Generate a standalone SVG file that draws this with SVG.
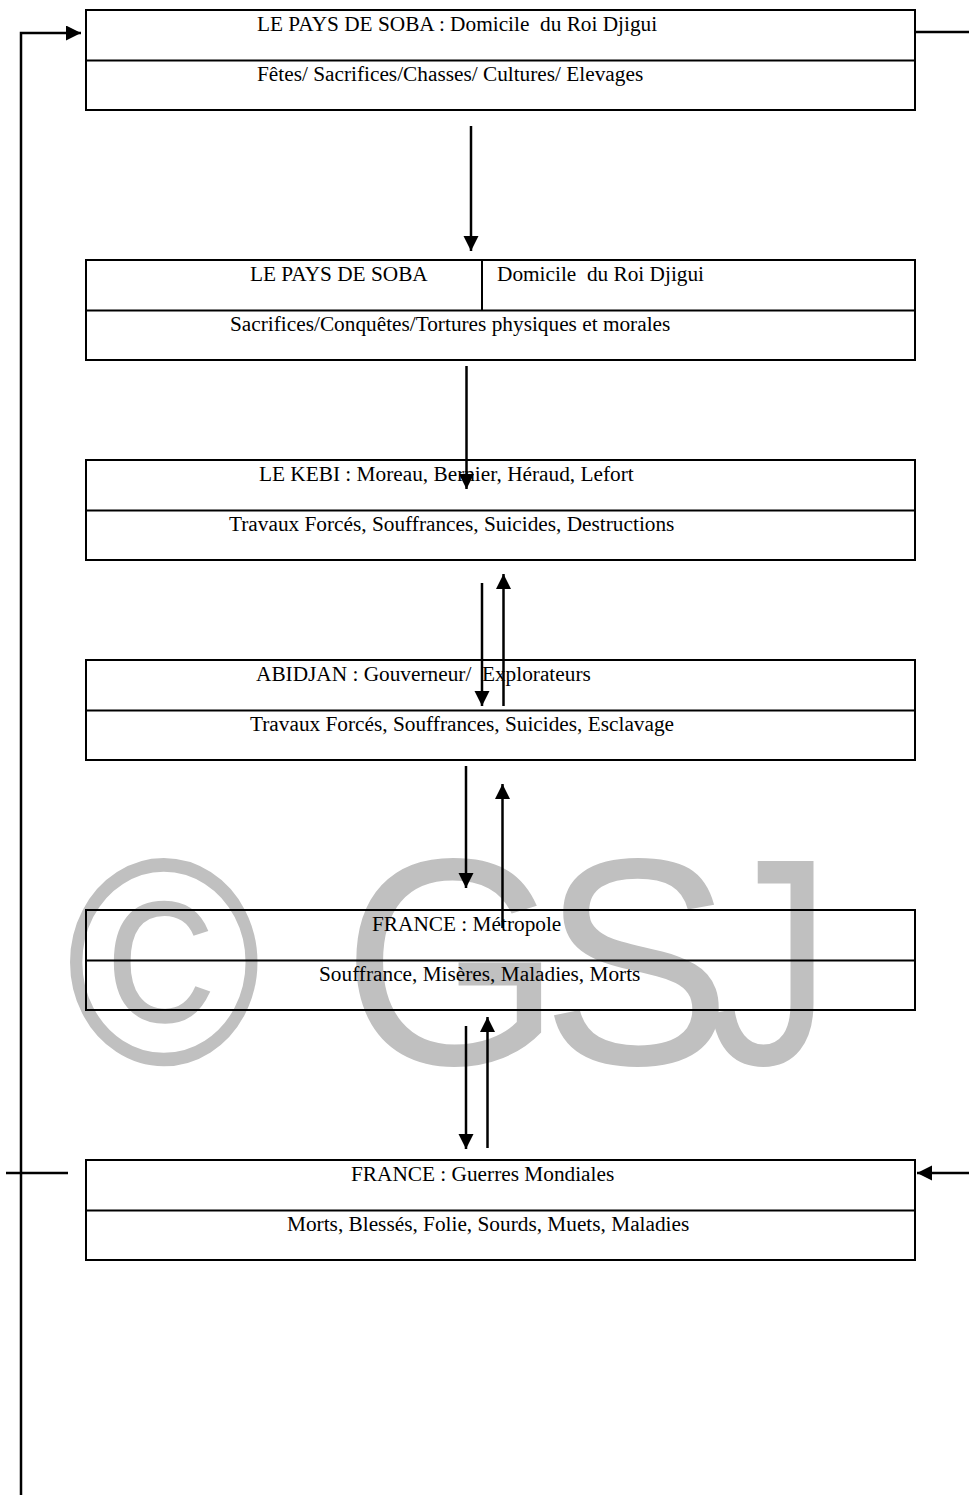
<svg xmlns="http://www.w3.org/2000/svg" width="969" height="1495" viewBox="0 0 969 1495">
<style>
.box{fill:none;stroke:#000;stroke-width:2}
.t{font-family:"Liberation Serif","Times New Roman",serif;font-size:21.3px;fill:#000}
.wm{font-family:"Liberation Sans",Arial,sans-serif;font-size:295px;fill:#c0c0c0}
.c{fill:none;stroke:#000;stroke-width:2.5}
</style>
<defs>
<marker id="ah" markerUnits="userSpaceOnUse" markerWidth="16" markerHeight="16" refX="15" refY="7.5" orient="auto">
<path d="M0,0 L15,7.5 L0,15 z" fill="#000"/>
</marker>
</defs>
<rect width="969" height="1495" fill="#fff"/>
<g id="watermark">
<text class="wm" transform="translate(66,1064) scale(0.9,1)">©</text>
<text class="wm" transform="translate(342,1064) scale(0.96,1)">G</text>
<text class="wm" transform="translate(541,1064) scale(0.97,1)">S</text>
<text class="wm" transform="translate(708,1064) scale(0.84,1)">J</text>
</g>
<g id="connectors">
<polyline class="c" points="21,1495 21,33 81,33" marker-end="url(#ah)"/>
<line class="c" x1="916" y1="32" x2="969" y2="32"/>
<line class="c" x1="471" y1="126" x2="471" y2="251" marker-end="url(#ah)"/>
<line class="c" x1="466.5" y1="366" x2="466.5" y2="489" marker-end="url(#ah)"/>
<line class="c" x1="482" y1="583" x2="482" y2="706" marker-end="url(#ah)"/>
<line class="c" x1="503.5" y1="706" x2="503.5" y2="574" marker-end="url(#ah)"/>
<line class="c" x1="466" y1="766" x2="466" y2="888" marker-end="url(#ah)"/>
<line class="c" x1="502.5" y1="928" x2="502.5" y2="784" marker-end="url(#ah)"/>
<line class="c" x1="466" y1="1026" x2="466" y2="1149" marker-end="url(#ah)"/>
<line class="c" x1="487.5" y1="1148" x2="487.5" y2="1017" marker-end="url(#ah)"/>
<line class="c" x1="6" y1="1173" x2="68" y2="1173"/>
<line class="c" x1="969" y1="1173" x2="917" y2="1173" marker-end="url(#ah)"/>
</g>
<g id="node1">
<rect class="box" x="86" y="10" width="829" height="100"/>
<line class="box" x1="86" y1="60.5" x2="915" y2="60.5"/>
<text class="t" x="257" y="31" xml:space="preserve">LE PAYS DE SOBA : Domicile  du Roi Djigui</text>
<text class="t" x="257" y="81">Fêtes/ Sacrifices/Chasses/ Cultures/ Elevages</text>
</g>
<g id="node2">
<rect class="box" x="86" y="260" width="829" height="100"/>
<line class="box" x1="86" y1="310.5" x2="915" y2="310.5"/>
<line class="box" x1="482" y1="260" x2="482" y2="310.5"/>
<text class="t" x="250" y="281">LE PAYS DE SOBA</text>
<text class="t" x="497" y="281" xml:space="preserve">Domicile  du Roi Djigui</text>
<text class="t" x="230" y="331">Sacrifices/Conquêtes/Tortures physiques et morales</text>
</g>
<g id="node3">
<rect class="box" x="86" y="460" width="829" height="100"/>
<line class="box" x1="86" y1="510.5" x2="915" y2="510.5"/>
<text class="t" x="259" y="481">LE KEBI : Moreau, Bernier, Héraud, Lefort</text>
<text class="t" x="229" y="531">Travaux Forcés, Souffrances, Suicides, Destructions</text>
</g>
<g id="node4">
<rect class="box" x="86" y="660" width="829" height="100"/>
<line class="box" x1="86" y1="710.5" x2="915" y2="710.5"/>
<text class="t" x="256" y="681" xml:space="preserve">ABIDJAN : Gouverneur/  Explorateurs</text>
<text class="t" x="250" y="731">Travaux Forcés, Souffrances, Suicides, Esclavage</text>
</g>
<g id="node5">
<rect class="box" x="86" y="910" width="829" height="100"/>
<line class="box" x1="86" y1="960.5" x2="915" y2="960.5"/>
<text class="t" x="372" y="931">FRANCE : Métropole</text>
<text class="t" x="319" y="981">Souffrance, Misères, Maladies, Morts</text>
</g>
<g id="node6">
<rect class="box" x="86" y="1160" width="829" height="100"/>
<line class="box" x1="86" y1="1210.5" x2="915" y2="1210.5"/>
<text class="t" x="351" y="1181">FRANCE : Guerres Mondiales</text>
<text class="t" x="287" y="1231">Morts, Blessés, Folie, Sourds, Muets, Maladies</text>
</g>
</svg>
